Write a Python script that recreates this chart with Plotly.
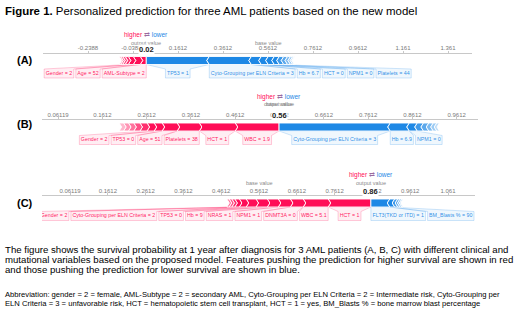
import plotly.graph_objects as go

W, H = 520, 312
BASE_VALUE = 0.56119

# ---------------- data (SHAP contributions) ----------------
# Panel A  (features pushing higher = red, lower = blue), ordered from the output value outward
a_pos_names = ["AML-Subtype = 2", "Age = 52", "Gender = 2", "", "", "", ""]
a_pos_vals = [0.027, 0.031, 0.022, 0.014, 0.011, 0.009, 0.006]
a_neg_names = ["TP53 = 1", "Cyto-Grouping per ELN Criteria = 3", "Hb = 6.7", "HCT = 0",
               "NPM1 = 0", "Platelets = 44", "", "", "", "", "", ""]
a_neg_vals = [0.280, 0.187, 0.044, 0.031, 0.027, 0.022, 0.020, 0.017, 0.013, 0.010, 0.007, 0.003]

# Panel B
b_pos_names = ["WBC = 1.9", "HCT = 1", "Platelets = 38", "Age = 51", "TP53 = 0", "Gender = 2",
               "", "", "", "", ""]
b_pos_vals = [0.099, 0.081, 0.050, 0.034, 0.018, 0.016, 0.016, 0.014, 0.012, 0.011, 0.010]
b_neg_names = ["Cyto-Grouping per ELN Criteria = 3", "Hb = 6.9", "NPM1 = 0", "", "", "", "", ""]
b_neg_vals = [0.251, 0.043, 0.018, 0.014, 0.012, 0.010, 0.008, 0.006]

# Panel C
c_pos_names = ["HCT = 1", "WBC = 5.1", "DNMT3A = 0", "NPM1 = 1", "NRAS = 1", "Hb = 9", "TP53 = 0",
               "Cyto-Grouping per ELN Criteria = 2", "Gender = 2", "", "", ""]
c_pos_vals = [0.113, 0.066, 0.034, 0.032, 0.029, 0.030, 0.026, 0.018, 0.012, 0.008, 0.007, 0.006]
c_neg_names = ["FLT3(TKD or ITD) = 1", "BM_Blasts % = 90", "", "", "", ""]
c_neg_vals = [0.050, 0.013, 0.008, 0.006, 0.005, 0.003]

panel_letters = ["(A)", "(B)", "(C)"]

title_bold = "Figure 1."
title_rest = " Personalized prediction for three AML patients based on the new model"
para_lines = [
    "The figure shows the survival probability at 1 year after diagnosis for 3 AML patients (A, B, C) with different clinical and",
    "mutational variables based on the proposed model. Features pushing the prediction for higher survival are shown in red",
    "and those pushing the prediction for lower survival are shown in blue.",
]
abbr_lines = [
    "Abbreviation: gender = 2 = female, AML-Subtype = 2 = secondary AML, Cyto-Grouping per ELN Criteria = 2 = Intermediate risk, Cyto-Grouping per",
    "ELN Criteria = 3 = unfavorable risk, HCT = hematopoietic stem cell transplant, HCT = 1 = yes, BM_Blasts % = bone marrow blast percentage",
]

# ---------------- styling / layout constants ----------------
RED = (255, 13, 87)
BLUE = (30, 136, 229)
FONT = "Liberation Sans, Arial, sans-serif"

panels = [
    dict(pos=(a_pos_names, a_pos_vals), neg=(a_neg_names, a_neg_vals), axis_py=53.5,
         base_px=268, k=225, left=43, right=472, step=0.2, nmin=-4, nmax=4,
         hl=-19, ov=-10.5, letter_py=60),
    dict(pos=(b_pos_names, b_pos_vals), neg=(b_neg_names, b_neg_vals), axis_py=120,
         base_px=279.5, k=443, left=42, right=478, step=0.1, nmin=-5, nmax=4,
         hl=-23.5, ov=-16, letter_py=124),
    dict(pos=(c_pos_names, c_pos_vals), neg=(c_neg_names, c_neg_vals), axis_py=196,
         base_px=259, k=378, left=42, right=475, step=0.1, nmin=-5, nmax=5,
         hl=-21, ov=-13.5, letter_py=203),
]

HH = 30          # height (px) of each panel's y-domain below the axis line
BAR_TOP, BAR_BOT = 3, 11
BOX_TOP, BOX_BOT = 15.5, 24.5
TXT_Y = 20
LABEL_FS = 5.3
PAD, GAP = 1.5, 2.0
CHEV = 2.5

CW = {' ': .278, '=': .584, '-': .333, '.': .278, '(': .333, ')': .333, '%': .889, '_': .556,
      ',': .278, ':': .278,
      'i': .222, 'l': .222, 'j': .222, 't': .278, 'f': .278, 'r': .333, 'm': .833, 'w': .722,
      's': .5, 'c': .5, 'k': .5, 'v': .5, 'x': .5, 'y': .5, 'z': .5,
      'I': .278, 'M': .833, 'C': .722, 'D': .722, 'G': .778, 'H': .722, 'N': .722, 'O': .778,
      'R': .722, 'U': .722, 'W': .944, 'T': .611, 'F': .611, 'L': .556, 'J': .5}


def text_w(s, size):
    tot = 0
    for ch in s:
        if ch in CW:
            tot += CW[ch]
        elif ch.isdigit():
            tot += .556
        elif ch.isupper():
            tot += .667
        else:
            tot += .556
    return tot * size


def rgba(c, a):
    return "rgba(%d,%d,%d,%.3f)" % (c[0], c[1], c[2], a)


def py2paper(py):
    return 1 - py / H


fig = go.Figure()
annotations = []
layout_axes = {}

for pi, P in enumerate(panels):
    sfx = "" if pi == 0 else str(pi + 1)
    xa, ya = "x" + sfx, "y" + sfx
    k = P["k"]
    r0 = BASE_VALUE + (P["left"] - P["base_px"]) / k
    r1 = BASE_VALUE + (P["right"] - P["base_px"]) / k
    pos_names, pos_vals = P["pos"]
    neg_names, neg_vals = P["neg"]
    output = BASE_VALUE + sum(pos_vals) - sum(neg_vals)
    d = CHEV / k

    for sign, names, vals, col in ((1, pos_names, pos_vals, RED), (-1, neg_names, neg_vals, BLUE)):
        cur = output
        segs = []
        for v in vals:
            nxt = cur - v if sign > 0 else cur + v
            segs.append((min(cur, nxt), max(cur, nxt)))
            cur = nxt
        # label layout (shap style: labels pushed away from the output value)
        limit = output
        labels = []
        for (x0, x1), nm in zip(segs, names):
            if not nm:
                continue
            w = (text_w(nm, LABEL_FS) + 2 * PAD) / k
            c = (x0 + x1) / 2
            if sign > 0:
                rt = min(c + w / 2, limit, x1)
                lf = rt - w
                limit = lf - GAP / k
            else:
                lf = max(c - w / 2, limit, x0)
                rt = lf + w
                limit = rt + GAP / k
            labels.append((x0, x1, lf, rt, nm))
        for (x0, x1, lf, rt, nm) in labels:
            fig.add_trace(go.Scatter(
                x=[x0, lf, lf, rt, rt, x1, x0], y=[BAR_BOT, BOX_TOP, BOX_BOT, BOX_BOT, BOX_TOP, BAR_BOT, BAR_BOT],
                mode="lines", fill="toself", fillcolor=rgba(col, 0.07),
                line=dict(color=rgba(col, 0.35), width=0.6), xaxis=xa, yaxis=ya,
                hoverinfo="skip", showlegend=False, cliponaxis=True))
        fig.add_trace(go.Scatter(
            x=[(l[2] + l[3]) / 2 for l in labels], y=[TXT_Y] * len(labels),
            text=[l[4] for l in labels], mode="text",
            textfont=dict(size=LABEL_FS, color=rgba(col, 0.95), family=FONT),
            xaxis=xa, yaxis=ya, hoverinfo="skip", showlegend=False, cliponaxis=True))
        tail_idx = 0
        for i, ((x0, x1), nm) in enumerate(zip(segs, names)):
            mid = (BAR_TOP + BAR_BOT) / 2
            if sign > 0:
                if i == 0:
                    px = [x0, x1, x1, x0, x0 + d, x0]
                    py = [BAR_TOP, BAR_TOP, BAR_BOT, BAR_BOT, mid, BAR_TOP]
                else:
                    px = [x0, x1, x1 + d, x1, x0, x0 + d, x0]
                    py = [BAR_TOP, BAR_TOP, mid, BAR_BOT, BAR_BOT, mid, BAR_TOP]
            else:
                if i == 0:
                    px = [x0, x1, x1 - d, x1, x0, x0]
                    py = [BAR_TOP, BAR_TOP, mid, BAR_BOT, BAR_BOT, BAR_TOP]
                else:
                    px = [x0, x1, x1 - d, x1, x0, x0 - d, x0]
                    py = [BAR_TOP, BAR_TOP, mid, BAR_BOT, BAR_BOT, mid, BAR_TOP]
            if nm:
                alpha = 1.0
            else:
                tail_idx += 1
                alpha = max(0.2, 1.0 - 0.14 * tail_idx)
            fig.add_trace(go.Scatter(
                x=px, y=py, mode="lines", fill="toself", fillcolor=rgba(col, alpha),
                line=dict(color="white", width=0.9), xaxis=xa, yaxis=ya,
                hoverinfo="skip", showlegend=False, cliponaxis=True))

    tickvals = [BASE_VALUE + n * P["step"] for n in range(P["nmin"], P["nmax"] + 1)]
    ticktext = [("%.4g" % v) for v in tickvals]
    top = 1 - P["axis_py"] / H
    bot = 1 - (P["axis_py"] + HH) / H
    layout_axes["xaxis" + sfx] = dict(
        domain=[P["left"] / W, P["right"] / W], range=[r0, r1], anchor=ya, side="top",
        showgrid=False, zeroline=False, showline=True, linecolor="#c8c8c8", linewidth=0.8,
        ticks="outside", ticklen=2, tickcolor="#c8c8c8", tickwidth=0.8,
        ticklabelstandoff=-2,
        tickvals=tickvals, ticktext=ticktext,
        tickfont=dict(size=6, color="#7a7a7a", family=FONT), fixedrange=True)
    layout_axes["yaxis" + sfx] = dict(
        domain=[bot, top], range=[HH, 0], anchor=xa, visible=False, fixedrange=True)

    ax = P["axis_py"]
    annotations.append(dict(
        x=output, y=py2paper(ax + P["hl"]), xref=xa, yref="paper", xanchor="center", yanchor="middle",
        showarrow=False,
        text="<span style='color:#ff0d57'>higher</span> <span style='color:#9a6aa0'>⇄</span> "
             "<span style='color:#1e88e5'>lower</span>",
        font=dict(size=6.5, family=FONT)))
    annotations.append(dict(x=output, y=py2paper(ax + P["ov"]), xref=xa, yref="paper",
                            xanchor="center", yanchor="middle", showarrow=False,
                            text="output value", font=dict(size=5.5, color="#8a8a8a", family=FONT)))
    annotations.append(dict(x=BASE_VALUE, y=py2paper(ax + P["ov"]), xref=xa, yref="paper",
                            xanchor="center", yanchor="middle", showarrow=False,
                            text="base value", font=dict(size=5.5, color="#8a8a8a", family=FONT)))
    annotations.append(dict(x=output, y=py2paper(ax - 4.3), xref=xa, yref="paper",
                            xanchor="center", yanchor="middle", showarrow=False,
                            text="<b>%.2f</b>" % output, bgcolor="white", borderpad=0,
                            font=dict(size=7.5, color="#222", family=FONT)))
    annotations.append(dict(x=25 / W, y=py2paper(P["letter_py"]), xref="paper", yref="paper",
                            xanchor="center", yanchor="middle", showarrow=False,
                            text="<b>%s</b>" % panel_letters[pi],
                            font=dict(size=11, color="black", family=FONT)))

# font sizes chosen so that the text lines span the same width as in the reference
TITLE_FS = 414 / (4.17 + text_w(title_rest, 1))
PARA_FS = 509 / text_w(para_lines[1], 1)
ABBR_FS = 496 / text_w(abbr_lines[0], 1)

annotations.append(dict(x=3 / W, y=py2paper(11), xref="paper", yref="paper", xanchor="left",
                        yanchor="middle", showarrow=False,
                        text="<b>%s</b>%s" % (title_bold, title_rest),
                        font=dict(size=TITLE_FS, color="black", family=FONT)))
for i, line in enumerate(para_lines):
    annotations.append(dict(x=3 / W, y=py2paper(249.5 + 9.8 * i), xref="paper", yref="paper",
                            xanchor="left", yanchor="middle", showarrow=False, text=line,
                            font=dict(size=PARA_FS, color="black", family=FONT)))
for i, line in enumerate(abbr_lines):
    annotations.append(dict(x=3 / W, y=py2paper(294.5 + 9.4 * i), xref="paper", yref="paper",
                            xanchor="left", yanchor="middle", showarrow=False, text=line,
                            font=dict(size=ABBR_FS, color="black", family=FONT)))

fig.update_layout(width=W, height=H, margin=dict(l=0, r=0, t=0, b=0),
                  paper_bgcolor="white", plot_bgcolor="rgba(0,0,0,0)",
                  annotations=annotations, showlegend=False, **layout_axes)
fig.write_html("out.html", config={"displayModeBar": False},
               post_script="document.body.style.margin='0';document.body.style.overflow='hidden';")
